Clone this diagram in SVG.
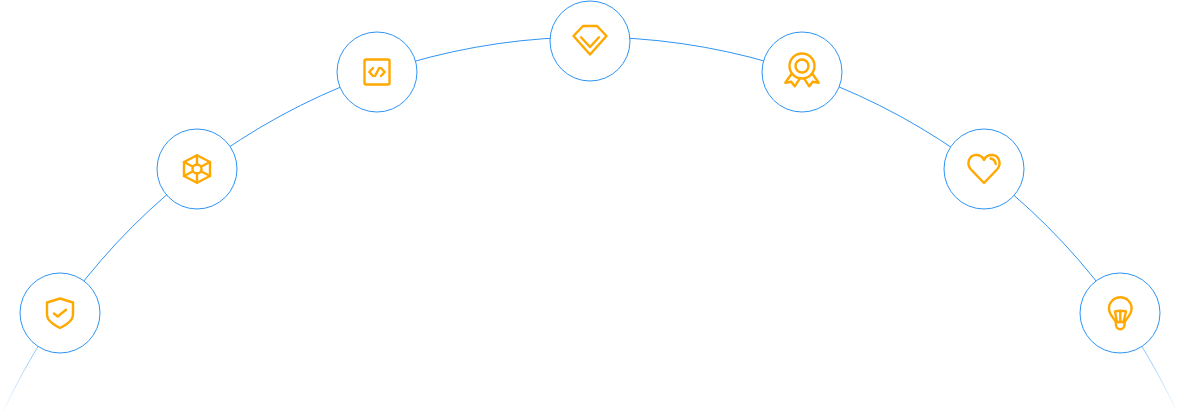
<svg xmlns="http://www.w3.org/2000/svg" width="1180" height="419" viewBox="0 0 1180 419">
<style>
.node{fill:#fff;stroke:#2e94f5;stroke-width:1}
.icon{fill:none;stroke:#ffa800;stroke-width:2.400;stroke-linejoin:round;stroke-linecap:round}
.arc{fill:none;stroke:url(#fade);stroke-width:1}
</style>
<defs>
<linearGradient id="fade" gradientUnits="userSpaceOnUse" x1="0" y1="300" x2="0" y2="415">
<stop offset="0" stop-color="#2e94f5"/>
<stop offset="0.43" stop-color="#2e94f5" stop-opacity="0.55"/>
<stop offset="1" stop-color="#2e94f5" stop-opacity="0"/>
</linearGradient>
</defs>
<rect width="1180" height="419" fill="#fff"/>
<g id="connectors">
<path class="arc" d="M1.600 415A647 647 0 0 1 1178.400 415"/>
</g>
<g id="node-shield">
<circle class="node" cx="60" cy="313" r="40"/>
<path class="icon" d="M60 298.500L47 302.500V315C47 320 53 324.500 60 328C67 324.500 73 320 73 315V302.500Z"/>
<path class="icon" d="M54 313.500L57.700 316.500L66 309.700"/>
</g>
<g id="node-hexagon">
<circle class="node" cx="197" cy="169" r="40"/>
<path class="icon" d="M197 155.200L210 162V176L197 182.800L184 176V162Z"/>
<circle class="icon" cx="197" cy="169" r="4.500"/>
<path class="icon" d="M197 155.200V164.500M210 162L201 166.700M210 176L201 171.300M197 182.800V173.500M184 176L193 171.300M184 162L193 166.700"/>
</g>
<g id="node-code">
<circle class="node" cx="377" cy="72" r="40"/>
<rect class="icon" x="364.500" y="59.500" width="25" height="25" rx="1.500"/>
<path class="icon" d="M373 68L369.300 72L373 76M381 68L384.700 72L381 76M379.300 68L375 76"/>
</g>
<g id="node-diamond">
<circle class="node" cx="590" cy="41" r="40"/>
<path class="icon" d="M583 26H597L606.500 36L590 54.500L573.500 36Z"/>
<path class="icon" d="M581 37.300L590 47L599 37.300"/>
</g>
<g id="node-medal">
<circle class="node" cx="802" cy="72" r="40"/>
<circle class="icon" cx="802" cy="66" r="12.500"/>
<circle class="icon" cx="802" cy="66" r="6.500"/>
<path class="icon" d="M791.300 74.300L785.300 82.700L791.300 81.700L794.700 86.300L799.300 79.300M812.700 74.300L818.700 82.700L812.700 81.700L809.300 86.300L804.700 79.300"/>
</g>
<g id="node-heart">
<circle class="node" cx="984" cy="169" r="40"/>
<path class="icon" d="M984 183L971 169.500C966 164 969 155 976 155C980 155 983 157.500 984 160C985 157.500 988 155 992 155C999 155 1002 164 997 169.500Z"/>
<path class="icon" d="M990.500 158.500C993.500 159 995.500 161 995.700 164" stroke-width="1.500"/>
</g>
<g id="node-bulb">
<circle class="node" cx="1120" cy="313" r="40"/>
<path class="icon" d="M1116 323.500C1116 319 1109 316 1109 308.500A11.300 11.300 0 0 1 1131.600 308.500C1131.600 316 1124.500 319 1124.500 323.500V325A4.200 4.200 0 0 1 1116 325Z"/>
<path class="icon" d="M1115 311.500Q1120.300 310 1126 311.500L1123.500 322H1117ZM1120.300 311V322" stroke-width="2"/>
</g>
</svg>
